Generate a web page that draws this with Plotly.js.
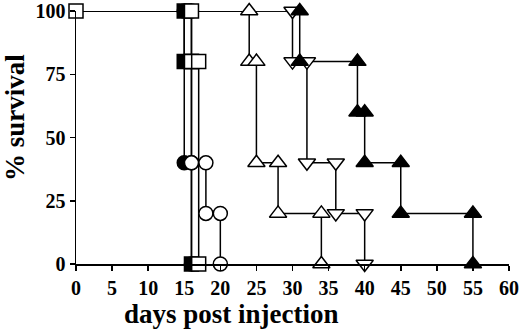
<!DOCTYPE html>
<html>
<head>
<meta charset="utf-8">
<script src="https://cdn.plot.ly/plotly-3.0.1.min.js"></script>
<style>html,body{margin:0;padding:0;background:#fff;}#chart{width:520px;height:330px;}</style>
</head>
<body>
<div id="chart"></div>
<script>
// Kaplan-Meier step corners (day, % survival)
const fsqDays = [0, 15, 15, 16, 16];
const fsqSurv = [100, 100, 80, 80, 0];
const osqDays = [0, 16, 16, 17, 17];
const osqSurv = [100, 100, 80, 80, 0];
const fciDays = [0, 15, 15, 16, 16];
const fciSurv = [100, 100, 40, 40, 0];
const ociDays = [0, 16, 16, 18, 18, 20, 20];
const ociSurv = [100, 100, 40, 40, 20, 20, 0];
const utrDays = [0, 24, 24, 25, 25, 28, 28, 34, 34];
const utrSurv = [100, 100, 80, 80, 40, 40, 20, 20, 0];
const dtrDays = [0, 30, 30, 32, 32, 36, 36, 40, 40];
const dtrSurv = [100, 100, 80, 80, 40, 40, 20, 20, 0];
const ftrDays = [0, 31, 31, 39, 39, 40, 40, 45, 45, 55, 55];
const ftrSurv = [100, 100, 80, 80, 60, 60, 40, 40, 20, 20, 0];

const xTicks = [0, 5, 10, 15, 20, 25, 30, 35, 40, 45, 50, 55, 60];
const yTicks = [0, 25, 50, 75, 100];
const xTitle = 'days post injection';
const yTitle = '% survival';

// draw order for markers (later on top)
const series = [
  {x: fciDays, y: fciSurv, symbol: 'circle', fill: '#000', size: 14, startMarker: false},
  {x: ociDays, y: ociSurv, symbol: 'circle', fill: '#fff', size: 14, startMarker: false},
  {x: utrDays, y: utrSurv, symbol: 'triangle-up', fill: '#fff', size: 15, startMarker: false},
  {x: dtrDays, y: dtrSurv, symbol: 'triangle-down', fill: '#fff', size: 15, startMarker: false},
  {x: ftrDays, y: ftrSurv, symbol: 'triangle-up', fill: '#000', size: 15, startMarker: false},
  {x: fsqDays, y: fsqSurv, symbol: 'square', fill: '#000', size: 14, startMarker: false},
  {x: osqDays, y: osqSurv, symbol: 'square', fill: '#fff', size: 14, startMarker: true}
];

const traces = [];
series.forEach(s => {
  traces.push({x: s.x, y: s.y, type: 'scatter', mode: 'lines',
    line: {color: '#000', width: 1.5}, cliponaxis: false, hoverinfo: 'skip'});
});
series.forEach(s => {
  const start = s.startMarker ? 0 : 1;
  traces.push({x: s.x.slice(start), y: s.y.slice(start), type: 'scatter', mode: 'markers',
    marker: {symbol: s.symbol, size: s.size, color: s.fill, line: {color: '#000', width: 1.5}},
    cliponaxis: false, hoverinfo: 'skip'});
});

const tickFont = {family: 'Liberation Serif', size: 20, color: '#000', weight: 'bold'};
const titleFont = {family: 'Liberation Serif', size: 27, color: '#000', weight: 'bold'};

const layout = {
  width: 520, height: 330,
  margin: {l: 76, r: 11, t: 11, b: 66},
  paper_bgcolor: '#fff', plot_bgcolor: '#fff',
  showlegend: false,
  xaxis: {range: [0, 60], tickvals: xTicks, ticktext: xTicks.map(String),
    showgrid: false, zeroline: false, showline: true, linecolor: '#000', linewidth: 1.5,
    ticks: 'outside', ticklen: 5, tickwidth: 1.5, tickcolor: '#000', tickfont: tickFont, fixedrange: true},
  yaxis: {range: [0, 100], tickvals: yTicks, ticktext: yTicks.map(String),
    showgrid: false, zeroline: false, showline: true, linecolor: '#000', linewidth: 1.5,
    ticks: 'outside', ticklen: 5, tickwidth: 1.5, tickcolor: '#000', tickfont: tickFont, fixedrange: true},
  annotations: [
    {text: xTitle, xref: 'paper', yref: 'paper', x: 0.36, y: -0.198, xanchor: 'center', yanchor: 'middle',
      showarrow: false, font: titleFont},
    {text: yTitle, xref: 'paper', yref: 'paper', x: -0.141, y: 0.581, xanchor: 'center', yanchor: 'middle',
      textangle: -90, showarrow: false, font: titleFont}
  ]
};

Plotly.newPlot('chart', traces, layout, {staticPlot: true, displayModeBar: false});
</script>
</body>
</html>
